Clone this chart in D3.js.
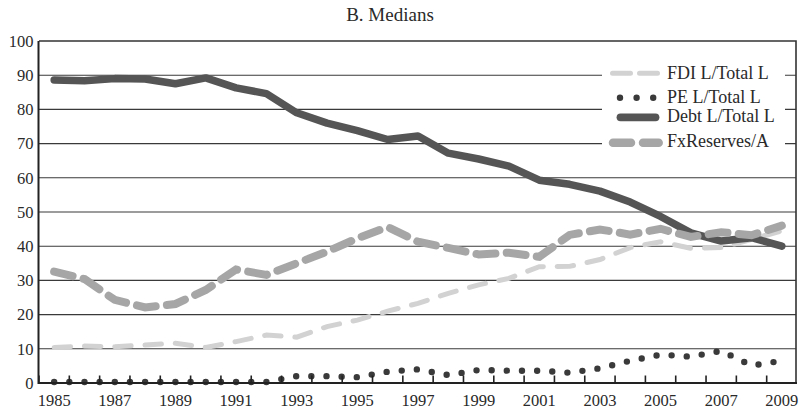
<!DOCTYPE html>
<html><head><meta charset="utf-8">
<script src="https://cdn.jsdelivr.net/npm/d3@7"></script>
<style>
body{margin:0;background:#fff}
svg{display:block}
text{font-family:"Liberation Serif","Times New Roman",serif;fill:#2a2a2a}
</style>
</head><body>
<svg id="c" width="800" height="410"></svg>
<script>
const years = [1985,1986,1987,1988,1989,1990,1991,1992,1993,1994,1995,1996,1997,1998,1999,2000,2001,2002,2003,2004,2005,2006,2007,2008,2009];
const fdi  = [10.4,10.8,10.6,11.1,11.6,10.4,12.1,14.0,13.4,16.5,18.4,21.0,23.3,26.2,28.7,30.6,34.0,34.1,36.1,39.6,41.3,39.4,39.6,42.0,44.5];
const pe   = [0.3,0.3,0.3,0.3,0.3,0.3,0.3,0.3,2.0,2.0,1.7,3.3,4.0,2.3,3.8,3.6,3.6,3.0,4.3,6.5,8.3,7.7,9.4,5.1,6.5];
const debt = [88.6,88.4,89.0,88.9,87.5,89.2,86.3,84.6,79.0,76.0,73.8,71.2,72.2,67.2,65.5,63.4,59.3,58.1,56.1,52.9,48.7,43.9,41.5,42.5,40.0];
const fxr  = [32.6,30.4,24.3,22.1,23.1,27.2,33.2,31.6,35.0,38.4,42.3,45.6,41.3,39.5,37.6,38.1,36.9,43.3,44.9,43.4,45.1,42.7,44.1,43.2,46.0];
const yTicks = [0,10,20,30,40,50,60,70,80,90,100];
const xTickLabels = [1985,1987,1989,1991,1993,1995,1997,1999,2001,2003,2005,2007,2009];
const seriesNames = ["FDI L/Total L","PE L/Total L","Debt L/Total L","FxReserves/A"];
const title = "B. Medians";

const svg = d3.select("#c");
const x = d3.scaleBand().domain(years).range([39, 797]);
const y = d3.scaleLinear().domain([0, 100]).range([383, 41]);
const bw = x.bandwidth();
const cx = yr => x(yr) + bw / 2;

// title
svg.append("text").attr("x", 390).attr("y", 20.5).attr("text-anchor", "middle")
  .style("font-size", "19px").text(title);

// gridlines
svg.append("g").selectAll("line").data(yTicks.filter(t => t > 0 && t < 100)).join("line")
  .attr("x1", 39).attr("x2", 796).attr("y1", d => y(d)).attr("y2", d => y(d))
  .attr("stroke", "#3a3a3a").attr("stroke-width", 1.1);

// border top/right
svg.append("path").attr("d", `M39,${y(100)}H796V383`).attr("fill", "none")
  .attr("stroke", "#333").attr("stroke-width", 1.6);

// series
const line = d3.line().x((d, i) => cx(years[i])).y(d => y(d));
svg.append("path").datum(fdi).attr("d", line).attr("fill", "none")
  .attr("stroke", "#d2d2d2").attr("stroke-width", 5).attr("stroke-linecap", "round")
  .attr("stroke-dasharray", "16.5,13.8");
svg.append("path").datum(pe).attr("d", line).attr("fill", "none")
  .attr("stroke", "#3a3a3a").attr("stroke-width", 6.4).attr("stroke-linecap", "round")
  .attr("stroke-dasharray", "0,15.16");
svg.append("path").datum(debt).attr("d", line).attr("fill", "none")
  .attr("stroke", "#555555").attr("stroke-width", 7.5).attr("stroke-linecap", "round")
  .attr("stroke-linejoin", "round");
svg.append("path").datum(fxr).attr("d", line).attr("fill", "none")
  .attr("stroke", "#a6a6a6").attr("stroke-width", 8).attr("stroke-linecap", "round")
  .attr("stroke-dasharray", "19,11.3");

// y axis
const yAxis = d3.axisLeft(y).tickValues(yTicks).tickSize(0).tickPadding(5);
const gy = svg.append("g").attr("transform", "translate(38.5,0)").call(yAxis);
gy.select(".domain").attr("d", "M0,41V384").attr("stroke", "#222").attr("stroke-width", 2);
gy.selectAll("text").style("font-size", "16.5px").style("font-family", null).attr("fill", "#2a2a2a");

// x axis
const xAxis = d3.axisBottom(x).tickValues(xTickLabels).tickSize(0).tickPadding(11);
const gx = svg.append("g").attr("transform", "translate(0,383)").call(xAxis);
gx.select(".domain").attr("d", "M38,0H797").attr("stroke", "#222").attr("stroke-width", 2);
gx.selectAll("text").style("font-size", "16.5px").style("font-family", null).attr("fill", "#2a2a2a");
// inward boundary ticks
const bounds = years.map(yr => x(yr));
svg.append("g").selectAll("line").data(bounds).join("line")
  .attr("x1", d => d).attr("x2", d => d).attr("y1", 383).attr("y2", 375.5)
  .attr("stroke", "#222").attr("stroke-width", 1.6);

// legend
const lg = svg.append("g");
lg.append("rect").attr("x", 602).attr("y", 56).attr("width", 183).attr("height", 104).attr("fill", "#fff");
const rows = [73.3, 97.7, 117.3, 142.7];
const base = [79.3, 102.7, 121.7, 146.7];
lg.append("line").attr("x1", 612.5).attr("x2", 657.5).attr("y1", rows[0]).attr("y2", rows[0])
  .attr("stroke", "#d2d2d2").attr("stroke-width", 5).attr("stroke-linecap", "round").attr("stroke-dasharray", "18,9");
lg.append("line").attr("x1", 620).attr("x2", 653.2).attr("y1", rows[1]).attr("y2", rows[1])
  .attr("stroke", "#3a3a3a").attr("stroke-width", 6.4).attr("stroke-linecap", "round").attr("stroke-dasharray", "0,16.6");
lg.append("line").attr("x1", 620.5).attr("x2", 655.5).attr("y1", rows[2]).attr("y2", rows[2])
  .attr("stroke", "#555555").attr("stroke-width", 7.8).attr("stroke-linecap", "round");
lg.append("line").attr("x1", 613).attr("x2", 658.7).attr("y1", rows[3]).attr("y2", rows[3])
  .attr("stroke", "#a6a6a6").attr("stroke-width", 8.5).attr("stroke-linecap", "round").attr("stroke-dasharray", "18,12");
lg.selectAll("text.lab").data(seriesNames).join("text").attr("class", "lab")
  .attr("x", 667).attr("y", (d, i) => base[i]).style("font-size", "18px").text(d => d);
</script>
</body></html>
